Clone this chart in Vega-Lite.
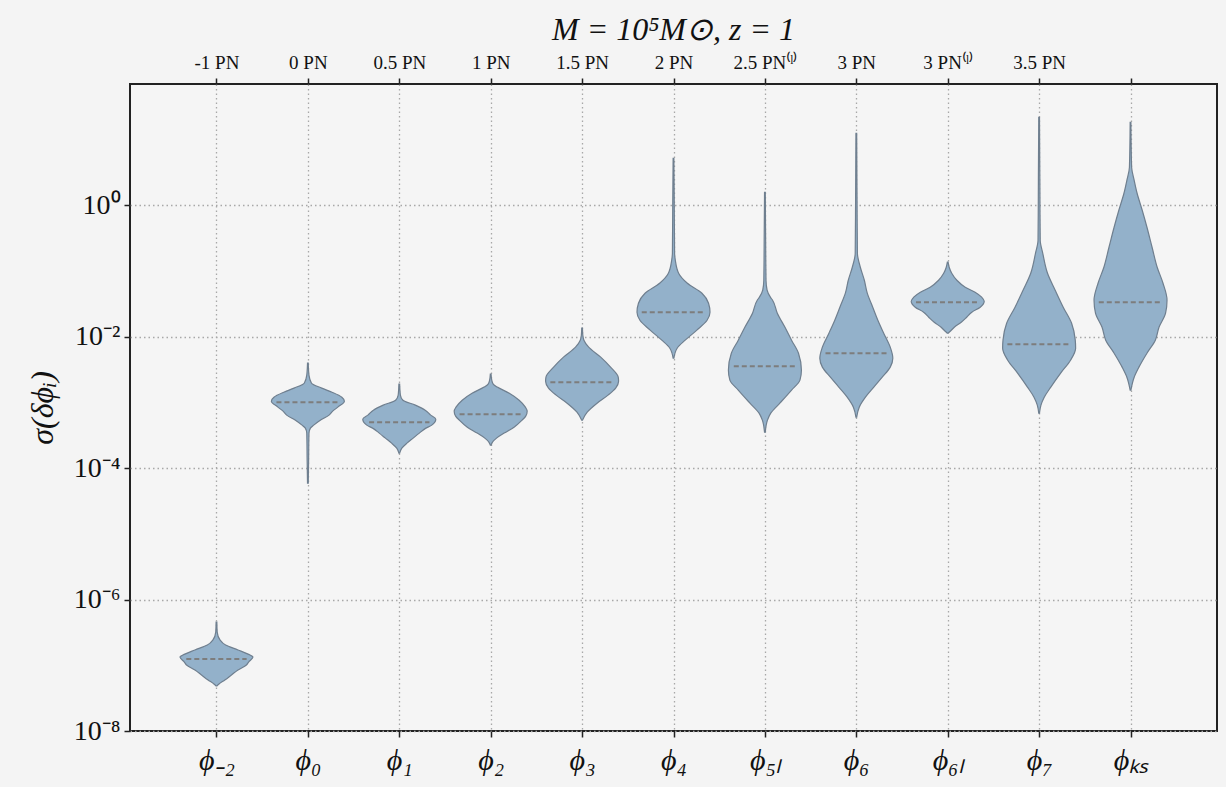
{
  "$schema": "https://vega.github.io/schema/vega-lite/v6.json",
  "width": 1087,
  "height": 647,
  "autosize": {"type": "none"},
  "padding": {"left": 130, "top": 84, "right": 9, "bottom": 56},
  "background": "#f4f4f4",
  "title": {"text": "M = 10⁵M⊙,  z = 1", "font": "Liberation Serif", "fontSize": 32, "fontWeight": "normal", "fontStyle": "italic", "color": "#111111", "offset": 6},
  "config": {
    "view": {"stroke": "#222222", "strokeWidth": 2, "fill": "#f5f5f5"},
    "axis": {"labelFont": "Liberation Serif", "titleFont": "Liberation Serif", "labelColor": "#111111", "titleColor": "#111111", "tickColor": "#222222", "tickWidth": 1.5, "tickSize": 6, "domain": false, "gridColor": "#a8a8a8", "gridDash": [1.5, 3], "gridWidth": 1.3, "zindex": 1},
    "area": {"orient": "horizontal", "interpolate": "monotone", "fill": "#93b1ca", "stroke": "#6f7f8f", "strokeWidth": 1.2, "opacity": 1}
  },
  "datasets": {
    "violins": [
      {"p": "ϕ₋₂", "v": 4.84e-8, "w": 0.01}, {"p": "ϕ₋₂", "v": 5.19e-8, "w": 0.07}, {"p": "ϕ₋₂", "v": 5.97e-8, "w": 0.23}, {"p": "ϕ₋₂", "v": 7.11e-8, "w": 0.41}, {"p": "ϕ₋₂", "v": 8.47e-8, "w": 0.59}, {"p": "ϕ₋₂", "v": 1.009e-7, "w": 0.82}, {"p": "ϕ₋₂", "v": 1.12e-7, "w": 0.88}, {"p": "ϕ₋₂", "v": 1.335e-7, "w": 1.0}, {"p": "ϕ₋₂", "v": 1.43e-7, "w": 0.92}, {"p": "ϕ₋₂", "v": 1.71e-7, "w": 0.59}, {"p": "ϕ₋₂", "v": 2.03e-7, "w": 0.25}, {"p": "ϕ₋₂", "v": 2.42e-7, "w": 0.1}, {"p": "ϕ₋₂", "v": 3.2e-7, "w": 0.02}, {"p": "ϕ₋₂", "v": 4.55e-7, "w": 0.01},
      {"p": "ϕ₀", "v": 5.91e-5, "w": 0.01}, {"p": "ϕ₀", "v": 1.32e-4, "w": 0.02}, {"p": "ϕ₀", "v": 3.41e-4, "w": 0.03}, {"p": "ϕ₀", "v": 4.06e-4, "w": 0.07}, {"p": "ϕ₀", "v": 4.51e-4, "w": 0.16}, {"p": "ϕ₀", "v": 5.37e-4, "w": 0.34}, {"p": "ϕ₀", "v": 6.4e-4, "w": 0.58}, {"p": "ϕ₀", "v": 7.36e-4, "w": 0.68}, {"p": "ϕ₀", "v": 8.47e-4, "w": 0.82}, {"p": "ϕ₀", "v": 1.045e-3, "w": 1.0}, {"p": "ϕ₀", "v": 1.2e-3, "w": 0.93}, {"p": "ϕ₀", "v": 1.43e-3, "w": 0.66}, {"p": "ϕ₀", "v": 1.65e-3, "w": 0.38}, {"p": "ϕ₀", "v": 1.96e-3, "w": 0.1}, {"p": "ϕ₀", "v": 2.6e-3, "w": 0.03}, {"p": "ϕ₀", "v": 3.95e-3, "w": 0.01},
      {"p": "ϕ₁", "v": 1.69e-4, "w": 0.01}, {"p": "ϕ₁", "v": 2.01e-4, "w": 0.07}, {"p": "ϕ₁", "v": 2.4e-4, "w": 0.21}, {"p": "ϕ₁", "v": 2.86e-4, "w": 0.38}, {"p": "ϕ₁", "v": 3.41e-4, "w": 0.55}, {"p": "ϕ₁", "v": 4.06e-4, "w": 0.73}, {"p": "ϕ₁", "v": 4.51e-4, "w": 0.89}, {"p": "ϕ₁", "v": 5.56e-4, "w": 1.0}, {"p": "ϕ₁", "v": 6.4e-4, "w": 0.86}, {"p": "ϕ₁", "v": 7.62e-4, "w": 0.71}, {"p": "ϕ₁", "v": 9.08e-4, "w": 0.44}, {"p": "ϕ₁", "v": 1.08e-3, "w": 0.1}, {"p": "ϕ₁", "v": 1.29e-3, "w": 0.03}, {"p": "ϕ₁", "v": 1.9e-3, "w": 0.01},
      {"p": "ϕ₂", "v": 2.24e-4, "w": 0.01}, {"p": "ϕ₂", "v": 2.49e-4, "w": 0.05}, {"p": "ϕ₂", "v": 2.86e-4, "w": 0.16}, {"p": "ϕ₂", "v": 3.41e-4, "w": 0.37}, {"p": "ϕ₂", "v": 4.2e-4, "w": 0.64}, {"p": "ϕ₂", "v": 5.37e-4, "w": 0.86}, {"p": "ϕ₂", "v": 6.18e-4, "w": 0.96}, {"p": "ϕ₂", "v": 7.36e-4, "w": 1.0}, {"p": "ϕ₂", "v": 8.47e-4, "w": 0.95}, {"p": "ϕ₂", "v": 1.08e-3, "w": 0.78}, {"p": "ϕ₂", "v": 1.38e-3, "w": 0.51}, {"p": "ϕ₂", "v": 1.71e-3, "w": 0.18}, {"p": "ϕ₂", "v": 1.9e-3, "w": 0.07}, {"p": "ϕ₂", "v": 2.18e-3, "w": 0.03}, {"p": "ϕ₂", "v": 2.69e-3, "w": 0.01},
      {"p": "ϕ₃", "v": 5.37e-4, "w": 0.01}, {"p": "ϕ₃", "v": 7.11e-4, "w": 0.14}, {"p": "ϕ₃", "v": 9.74e-4, "w": 0.41}, {"p": "ϕ₃", "v": 1.29e-3, "w": 0.71}, {"p": "ϕ₃", "v": 1.65e-3, "w": 0.92}, {"p": "ϕ₃", "v": 2.1e-3, "w": 1.0}, {"p": "ϕ₃", "v": 2.42e-3, "w": 0.99}, {"p": "ϕ₃", "v": 3.44e-3, "w": 0.78}, {"p": "ϕ₃", "v": 4.88e-3, "w": 0.51}, {"p": "ϕ₃", "v": 6.92e-3, "w": 0.18}, {"p": "ϕ₃", "v": 8.85e-3, "w": 0.05}, {"p": "ϕ₃", "v": 1.05e-2, "w": 0.02}, {"p": "ϕ₃", "v": 1.347e-2, "w": 0.01},
      {"p": "ϕ₄", "v": 4.71e-3, "w": 0.01}, {"p": "ϕ₄", "v": 6.68e-3, "w": 0.1}, {"p": "ϕ₄", "v": 8.85e-3, "w": 0.32}, {"p": "ϕ₄", "v": 1.26e-2, "w": 0.64}, {"p": "ϕ₄", "v": 1.78e-2, "w": 0.92}, {"p": "ϕ₄", "v": 2.36e-2, "w": 1.0}, {"p": "ϕ₄", "v": 3.23e-2, "w": 0.96}, {"p": "ϕ₄", "v": 4.59e-2, "w": 0.78}, {"p": "ϕ₄", "v": 6.51e-2, "w": 0.38}, {"p": "ϕ₄", "v": 9.24e-2, "w": 0.14}, {"p": "ϕ₄", "v": 0.1457, "w": 0.05}, {"p": "ϕ₄", "v": 0.186, "w": 0.03}, {"p": "ϕ₄", "v": 1.19, "w": 0.02}, {"p": "ϕ₄", "v": 5.19, "w": 0.01},
      {"p": "ϕ₅ₗ", "v": 3.53e-4, "w": 0.01}, {"p": "ϕ₅ₗ", "v": 5.37e-4, "w": 0.07}, {"p": "ϕ₅ₗ", "v": 6.86e-4, "w": 0.16}, {"p": "ϕ₅ₗ", "v": 9.74e-4, "w": 0.41}, {"p": "ϕ₅ₗ", "v": 1.54e-3, "w": 0.73}, {"p": "ϕ₅ₗ", "v": 2.18e-3, "w": 0.96}, {"p": "ϕ₅ₗ", "v": 3.09e-3, "w": 1.0}, {"p": "ϕ₅ₗ", "v": 5.61e-3, "w": 0.92}, {"p": "ϕ₅ₗ", "v": 8.85e-3, "w": 0.73}, {"p": "ϕ₅ₗ", "v": 1.39e-2, "w": 0.55}, {"p": "ϕ₅ₗ", "v": 2.28e-2, "w": 0.34}, {"p": "ϕ₅ₗ", "v": 3.59e-2, "w": 0.21}, {"p": "ϕ₅ₗ", "v": 3.99e-2, "w": 0.15}, {"p": "ϕ₅ₗ", "v": 5.1e-2, "w": 0.06}, {"p": "ϕ₅ₗ", "v": 7.23e-2, "w": 0.03}, {"p": "ϕ₅ₗ", "v": 0.2936, "w": 0.02}, {"p": "ϕ₅ₗ", "v": 1.577, "w": 0.01},
      {"p": "ϕ₆", "v": 5.97e-4, "w": 0.01}, {"p": "ϕ₆", "v": 8.47e-4, "w": 0.08}, {"p": "ϕ₆", "v": 1.2e-3, "w": 0.25}, {"p": "ϕ₆", "v": 1.71e-3, "w": 0.48}, {"p": "ϕ₆", "v": 2.42e-3, "w": 0.71}, {"p": "ϕ₆", "v": 3.44e-3, "w": 0.93}, {"p": "ϕ₆", "v": 4.71e-3, "w": 1.0}, {"p": "ϕ₆", "v": 6.92e-3, "w": 0.93}, {"p": "ϕ₆", "v": 1.13e-2, "w": 0.75}, {"p": "ϕ₆", "v": 1.78e-2, "w": 0.59}, {"p": "ϕ₆", "v": 2.81e-2, "w": 0.45}, {"p": "ϕ₆", "v": 4.59e-2, "w": 0.3}, {"p": "ϕ₆", "v": 7.23e-2, "w": 0.22}, {"p": "ϕ₆", "v": 0.114, "w": 0.11}, {"p": "ϕ₆", "v": 0.186, "w": 0.03}, {"p": "ϕ₆", "v": 1.19, "w": 0.02}, {"p": "ϕ₆", "v": 12.45, "w": 0.01},
      {"p": "ϕ₆ₗ", "v": 1.13e-2, "w": 0.01}, {"p": "ϕ₆ₗ", "v": 1.21e-2, "w": 0.07}, {"p": "ϕ₆ₗ", "v": 1.39e-2, "w": 0.18}, {"p": "ϕ₆ₗ", "v": 1.66e-2, "w": 0.37}, {"p": "ϕ₆ₗ", "v": 1.98e-2, "w": 0.52}, {"p": "ϕ₆ₗ", "v": 2.36e-2, "w": 0.66}, {"p": "ϕ₆ₗ", "v": 2.81e-2, "w": 0.89}, {"p": "ϕ₆ₗ", "v": 3.47e-2, "w": 1.0}, {"p": "ϕ₆ₗ", "v": 3.99e-2, "w": 0.93}, {"p": "ϕ₆ₗ", "v": 4.75e-2, "w": 0.75}, {"p": "ϕ₆ₗ", "v": 5.66e-2, "w": 0.48}, {"p": "ϕ₆ₗ", "v": 7.23e-2, "w": 0.25}, {"p": "ϕ₆ₗ", "v": 9.24e-2, "w": 0.11}, {"p": "ϕ₆ₗ", "v": 0.114, "w": 0.04}, {"p": "ϕ₆ₗ", "v": 0.1359, "w": 0.01},
      {"p": "ϕ₇", "v": 6.86e-4, "w": 0.01}, {"p": "ϕ₇", "v": 9.08e-4, "w": 0.05}, {"p": "ϕ₇", "v": 1.2e-3, "w": 0.14}, {"p": "ϕ₇", "v": 1.71e-3, "w": 0.32}, {"p": "ϕ₇", "v": 2.79e-3, "w": 0.59}, {"p": "ϕ₇", "v": 4.39e-3, "w": 0.86}, {"p": "ϕ₇", "v": 6.68e-3, "w": 1.0}, {"p": "ϕ₇", "v": 8.85e-3, "w": 0.99}, {"p": "ϕ₇", "v": 1.6e-2, "w": 0.89}, {"p": "ϕ₇", "v": 2.81e-2, "w": 0.66}, {"p": "ϕ₇", "v": 5.1e-2, "w": 0.44}, {"p": "ϕ₇", "v": 9.24e-2, "w": 0.23}, {"p": "ϕ₇", "v": 0.186, "w": 0.1}, {"p": "ϕ₇", "v": 0.2936, "w": 0.03}, {"p": "ϕ₇", "v": 2.4, "w": 0.02}, {"p": "ϕ₇", "v": 21.8, "w": 0.01},
      {"p": "ϕₖₛ", "v": 1.54e-3, "w": 0.01}, {"p": "ϕₖₛ", "v": 2.42e-3, "w": 0.1}, {"p": "ϕₖₛ", "v": 3.44e-3, "w": 0.23}, {"p": "ϕₖₛ", "v": 5.61e-3, "w": 0.45}, {"p": "ϕₖₛ", "v": 8.85e-3, "w": 0.68}, {"p": "ϕₖₛ", "v": 1.39e-2, "w": 0.78}, {"p": "ϕₖₛ", "v": 2.28e-2, "w": 0.96}, {"p": "ϕₖₛ", "v": 3.59e-2, "w": 1.0}, {"p": "ϕₖₛ", "v": 6.51e-2, "w": 0.89}, {"p": "ϕₖₛ", "v": 0.114, "w": 0.73}, {"p": "ϕₖₛ", "v": 0.2298, "w": 0.59}, {"p": "ϕₖₛ", "v": 0.463, "w": 0.45}, {"p": "ϕₖₛ", "v": 0.839, "w": 0.32}, {"p": "ϕₖₛ", "v": 1.522, "w": 0.18}, {"p": "ϕₖₛ", "v": 2.4, "w": 0.1}, {"p": "ϕₖₛ", "v": 3.78, "w": 0.03}, {"p": "ϕₖₛ", "v": 18.3, "w": 0.01}
    ],
    "medians": [
      {"p": "ϕ₋₂", "v": 1.245e-7, "w": 0.95},
      {"p": "ϕ₀", "v": 1.009e-3, "w": 0.99},
      {"p": "ϕ₁", "v": 5.01e-4, "w": 0.95},
      {"p": "ϕ₂", "v": 6.63e-4, "w": 0.98},
      {"p": "ϕ₃", "v": 2.03e-3, "w": 1.0},
      {"p": "ϕ₄", "v": 2.36e-2, "w": 1.0},
      {"p": "ϕ₅ₗ", "v": 3.56e-3, "w": 0.98},
      {"p": "ϕ₆", "v": 5.61e-3, "w": 0.97},
      {"p": "ϕ₆ₗ", "v": 3.35e-2, "w": 1.0},
      {"p": "ϕ₇", "v": 7.69e-3, "w": 1.0},
      {"p": "ϕₖₛ", "v": 3.35e-2, "w": 1.0}
    ]
  },
  "encoding": {
    "y": {
      "field": "v", "type": "quantitative",
      "scale": {"type": "log", "domain": [1e-8, 70], "nice": false},
      "axis": {
        "title": "σ(δϕᵢ)", "titleFontSize": 32, "titleFontStyle": "italic", "titleFontWeight": "normal", "titlePadding": 14,
        "values": [1e-8, 1e-6, 1e-4, 1e-2, 1],
        "labelExpr": "datum.value < 5e-8 ? '10⁻⁸' : datum.value < 5e-6 ? '10⁻⁶' : datum.value < 5e-4 ? '10⁻⁴' : datum.value < 5e-2 ? '10⁻²' : '10⁰'",
        "labelFontSize": 28, "labelPadding": 4, "grid": true
      }
    }
  },
  "layer": [
    {"data": {"name": "violins"}, "transform": [{"filter": {"field": "p", "equal": "ϕ₋₂"}}], "mark": "area",
     "encoding": {"x": {"field": "w", "type": "quantitative", "stack": "center", "scale": {"domain": [-0.68452, 14.20588], "nice": false, "zero": false}, "axis": null}}},
    {"data": {"name": "violins"}, "transform": [{"filter": {"field": "p", "equal": "ϕ₀"}}], "mark": "area",
     "encoding": {"x": {"field": "w", "type": "quantitative", "stack": "center", "scale": {"domain": [-1.93666, 12.95374], "nice": false, "zero": false}, "axis": null}}},
    {"data": {"name": "violins"}, "transform": [{"filter": {"field": "p", "equal": "ϕ₁"}}], "mark": "area",
     "encoding": {"x": {"field": "w", "type": "quantitative", "stack": "center", "scale": {"domain": [-3.18877, 11.70163], "nice": false, "zero": false}, "axis": null}}},
    {"data": {"name": "violins"}, "transform": [{"filter": {"field": "p", "equal": "ϕ₂"}}], "mark": "area",
     "encoding": {"x": {"field": "w", "type": "quantitative", "stack": "center", "scale": {"domain": [-4.44089, 10.44951], "nice": false, "zero": false}, "axis": null}}},
    {"data": {"name": "violins"}, "transform": [{"filter": {"field": "p", "equal": "ϕ₃"}}], "mark": "area",
     "encoding": {"x": {"field": "w", "type": "quantitative", "stack": "center", "scale": {"domain": [-5.69301, 9.19739], "nice": false, "zero": false}, "axis": null}}},
    {"data": {"name": "violins"}, "transform": [{"filter": {"field": "p", "equal": "ϕ₄"}}], "mark": "area",
     "encoding": {"x": {"field": "w", "type": "quantitative", "stack": "center", "scale": {"domain": [-6.9452, 7.9452], "nice": false, "zero": false}, "axis": null}}},
    {"data": {"name": "violins"}, "transform": [{"filter": {"field": "p", "equal": "ϕ₅ₗ"}}], "mark": "area",
     "encoding": {"x": {"field": "w", "type": "quantitative", "stack": "center", "scale": {"domain": [-8.19739, 6.69301], "nice": false, "zero": false}, "axis": null}}},
    {"data": {"name": "violins"}, "transform": [{"filter": {"field": "p", "equal": "ϕ₆"}}], "mark": "area",
     "encoding": {"x": {"field": "w", "type": "quantitative", "stack": "center", "scale": {"domain": [-9.44951, 5.44089], "nice": false, "zero": false}, "axis": null}}},
    {"data": {"name": "violins"}, "transform": [{"filter": {"field": "p", "equal": "ϕ₆ₗ"}}], "mark": "area",
     "encoding": {"x": {"field": "w", "type": "quantitative", "stack": "center", "scale": {"domain": [-10.70163, 4.18877], "nice": false, "zero": false}, "axis": null}}},
    {"data": {"name": "violins"}, "transform": [{"filter": {"field": "p", "equal": "ϕ₇"}}], "mark": "area",
     "encoding": {"x": {"field": "w", "type": "quantitative", "stack": "center", "scale": {"domain": [-11.95374, 2.93666], "nice": false, "zero": false}, "axis": null}}},
    {"data": {"name": "violins"}, "transform": [{"filter": {"field": "p", "equal": "ϕₖₛ"}}], "mark": "area",
     "encoding": {"x": {"field": "w", "type": "quantitative", "stack": "center", "scale": {"domain": [-13.20588, 1.68452], "nice": false, "zero": false}, "axis": null}}},
    {
      "data": {"name": "medians"},
      "mark": {"type": "point", "shape": "M-1,0L1,0", "filled": false, "stroke": "#7d7d7d", "strokeWidth": 2, "strokeDash": [5, 3], "opacity": 1},
      "encoding": {
        "x": {
          "field": "p", "type": "nominal",
          "scale": {"type": "point", "padding": 0.946, "domain": ["ϕ₋₂", "ϕ₀", "ϕ₁", "ϕ₂", "ϕ₃", "ϕ₄", "ϕ₅ₗ", "ϕ₆", "ϕ₆ₗ", "ϕ₇", "ϕₖₛ"]},
          "axis": {"orient": "bottom", "title": null, "labelFontSize": 30, "labelFontStyle": "italic", "labelPadding": 8, "labelAngle": 0, "grid": true}
        },
        "size": {"field": "w", "type": "quantitative", "scale": {"type": "pow", "exponent": 2, "domain": [0, 1], "range": [0, 4032]}, "legend": null}
      }
    },
    {
      "data": {"name": "medians"},
      "mark": {"type": "point", "opacity": 0},
      "encoding": {
        "x": {
          "field": "p", "type": "nominal",
          "scale": {"type": "point", "padding": 0.946, "domain": ["ϕ₋₂", "ϕ₀", "ϕ₁", "ϕ₂", "ϕ₃", "ϕ₄", "ϕ₅ₗ", "ϕ₆", "ϕ₆ₗ", "ϕ₇", "ϕₖₛ"]},
          "axis": {
            "orient": "top", "title": null, "grid": false, "labelFontSize": 19, "labelPadding": 6, "labelAngle": 0,
            "labelExpr": "['-1 PN', '0 PN', '0.5 PN', '1 PN', '1.5 PN', '2 PN', '2.5 PN⁽ˡ⁾', '3 PN', '3 PN⁽ˡ⁾', '3.5 PN', ''][indexof(['ϕ₋₂', 'ϕ₀', 'ϕ₁', 'ϕ₂', 'ϕ₃', 'ϕ₄', 'ϕ₅ₗ', 'ϕ₆', 'ϕ₆ₗ', 'ϕ₇', 'ϕₖₛ'], datum.value)]"
          }
        }
      }
    }
  ],
  "resolve": {"scale": {"x": "independent", "size": "independent"}, "axis": {"x": "independent"}}
}
